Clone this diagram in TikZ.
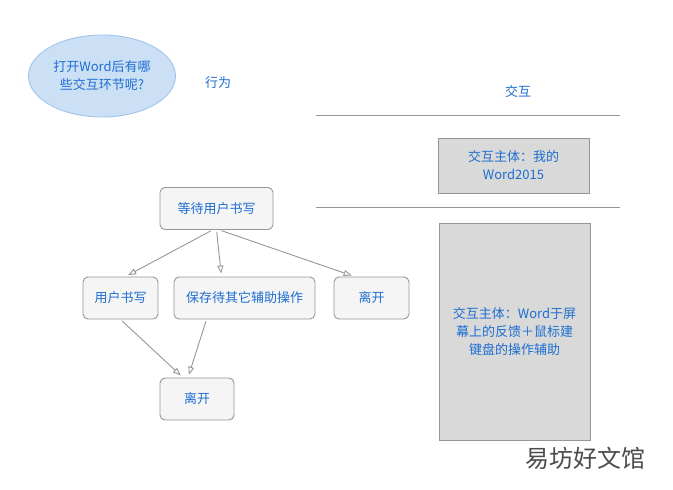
\documentclass[tikz,border=0pt]{standalone}
\usepackage{fontspec}
\setmainfont{Noto Sans CJK SC}
\usetikzlibrary{positioning, arrows.meta, shapes.geometric}
\definecolor{txtblue}{RGB}{30,110,210}
\definecolor{boxgray}{RGB}{217,217,217}
\definecolor{linegray}{RGB}{150,150,150}

\begin{document}
\begin{tikzpicture}[x=1pt, y=-1pt, font=\fontsize{13}{18}\selectfont, line width=0.9pt]
    \tikzstyle{stage} = [draw=linegray, fill=black!4, rounded corners=5pt, minimum height=42pt, text=txtblue, inner sep=6pt]
    \tikzstyle{panel} = [draw=linegray, fill=boxgray, text=txtblue, align=center]
    \tikzstyle{flow} = [draw=linegray, shorten <=2pt, shorten >=3pt, -{Triangle[open, length=8pt, width=6pt]}]

    \useasboundingbox (0,0) rectangle (673,490);

    % Question and headings
    \node[ellipse, draw={rgb,255:red,160;green,195;blue,235}, fill={rgb,255:red,204;green,224;blue,245}, minimum width=140pt, minimum height=82pt, text=txtblue, align=center] (question) at (102,76) {打开Word后有哪\\些交互环节呢?};
    \node[text=txtblue] (behaviour) at (218,83) {行为};
    \node[text=txtblue] (interact) at (518,92) {交互};

    % Separators
    \coordinate (sep1a) at (316,115);
    \coordinate (sep1b) at (620,115);
    \coordinate (sep2a) at (316,207);
    \coordinate (sep2b) at (620,207);
    \draw[linegray] (sep1a) -- (sep1b);
    \draw[linegray] (sep2a) -- (sep2b);

    % Interaction panels
    \node[panel, minimum width=151pt, minimum height=55pt] (subject1) at (513.5,165.5) {交互主体：我的\\Word2015};
    \node[panel, minimum width=151pt, minimum height=217pt] (subject2) at (514.5,331.5) {交互主体：Word于屏\\幕上的反馈＋鼠标建\\键盘的操作辅助};

    % Flow nodes
    \node[stage, minimum width=113pt] (wait) at (216.5,208.5) {等待用户书写};
    \node[stage, minimum width=75pt] (write) at (120.5,298) {用户书写};
    \node[stage, minimum width=141pt] (save) at (244.5,298) {保存待其它辅助操作};
    \node[stage, minimum width=75pt] (leave1) at (371.5,298) {离开};
    \node[stage, minimum width=74pt] (leave2) at (197,399) {离开};

    % Arrows
    \draw[flow] ([xshift=-4pt]wait.south) -- ([xshift=5pt]write.north);
    \draw[flow] (wait.south) -- ([xshift=-23pt]save.north);
    \draw[flow] ([xshift=3pt]wait.south) -- ([xshift=-17pt]leave1.north);
    \draw[flow] (write.south) -- ([xshift=-14pt]leave2.north);
    \draw[flow] ([xshift=-38pt]save.south) -- ([xshift=-9pt]leave2.north);

    % Watermark
    \node[text=black!70, font=\fontsize{24}{28}\selectfont] (mark) at (585,458) {易坊好文馆};
\end{tikzpicture}
\end{document}
